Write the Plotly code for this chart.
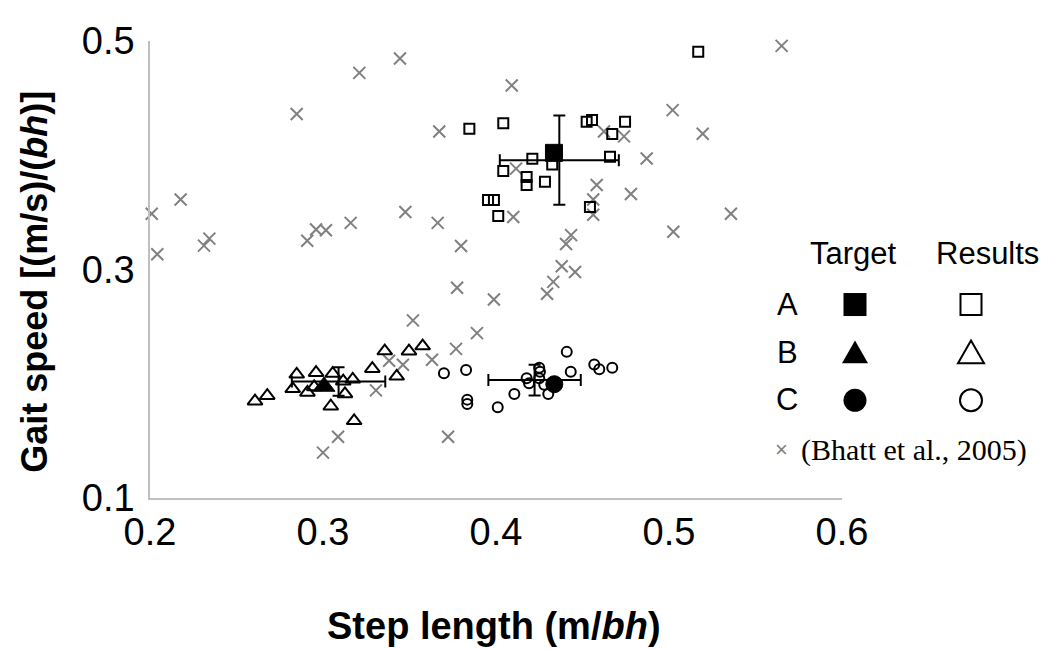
import plotly.graph_objects as go

# ---------------- data ----------------
bhatt_x = [0.2097, 0.2992, 0.3445, 0.3210, 0.2848, 0.3672, 0.2177, 0.2010, 0.2042, 0.2312,
           0.2343, 0.2909, 0.2960, 0.3017, 0.3160, 0.3476, 0.3663, 0.3798, 0.4091, 0.5021,
           0.4624, 0.4740, 0.5195, 0.4871, 0.4116, 0.4582, 0.4780, 0.4562, 0.4562, 0.4100,
           0.4434, 0.4405, 0.5025, 0.4380, 0.4457, 0.4331, 0.5651, 0.5358, 0.4295, 0.3988,
           0.3775, 0.3520, 0.3890, 0.3769, 0.3630, 0.3462, 0.3382, 0.3723, 0.3306, 0.3087,
           0.3000]
bhatt_y = [0.5020, 0.5035, 0.4847, 0.4721, 0.4361, 0.4208, 0.3612, 0.3488, 0.3134, 0.3209,
           0.3270, 0.3252, 0.3350, 0.3344, 0.3408, 0.3503, 0.3408, 0.3206, 0.4611, 0.4395,
           0.4208, 0.4165, 0.4188, 0.3972, 0.3883, 0.3739, 0.3661, 0.3612, 0.3479, 0.3460,
           0.3301, 0.3223, 0.3330, 0.3028, 0.2978, 0.2892, 0.4957, 0.3488, 0.2788, 0.2737,
           0.2840, 0.2555, 0.2443, 0.2305, 0.2210, 0.2166, 0.2201, 0.1536, 0.1942, 0.1536,
           0.1397]

results_a_x = [0.3846, 0.4042, 0.4524, 0.4555, 0.4746, 0.4672, 0.4210, 0.4325, 0.4659,
               0.4042, 0.4177, 0.4177, 0.4283, 0.3954, 0.3988, 0.4013, 0.4543, 0.5169]
results_a_y = [0.4231, 0.4280, 0.4294, 0.4309, 0.4294, 0.4185, 0.3969, 0.3920, 0.3987,
               0.3862, 0.3810, 0.3739, 0.3767, 0.3609, 0.3609, 0.3468, 0.3546, 0.4905]

results_b_x = [0.2607, 0.2678, 0.2848, 0.2825, 0.2910, 0.2960, 0.3056, 0.2949, 0.3117,
               0.3172, 0.3127, 0.3045, 0.3180, 0.3285, 0.3357, 0.3426, 0.3497, 0.3576]
results_b_y = [0.1847, 0.1896, 0.2083, 0.1956, 0.1924, 0.2097, 0.2089, 0.1972, 0.2022,
               0.2039, 0.1911, 0.1803, 0.1676, 0.2132, 0.2286, 0.2065, 0.2285, 0.2330]

results_c_x = [0.3699, 0.3827, 0.3834, 0.3834, 0.4010, 0.4106, 0.4177, 0.4191, 0.4250,
               0.4254, 0.4250, 0.4279, 0.4302, 0.4409, 0.4432, 0.4568, 0.4597, 0.4672]
results_c_y = [0.2091, 0.2121, 0.1861, 0.1823, 0.1795, 0.1910, 0.2048, 0.2005, 0.2140,
               0.2106, 0.2048, 0.1991, 0.1910, 0.2279, 0.2106, 0.2169, 0.2126, 0.2140]

target_x = [0.4335, 0.3006, 0.4337]
target_y = [0.4021, 0.1976, 0.1996]
target_symbols = ["square", "triangle-up", "circle"]
target_sizes = [17, 19, 17]

mean_x = [0.4366, 0.3090, 0.4223]
mean_y = [0.3957, 0.2019, 0.2032]
err_x = [0.0344, 0.0270, 0.0267]
err_y = [0.0391, 0.0125, 0.0134]

x_ticks = [0.2, 0.3, 0.4, 0.5, 0.6]
y_ticks = [0.1, 0.3, 0.5]

# ---------------- figure ----------------
fig = go.Figure()

fig.add_trace(go.Scatter(
    x=bhatt_x, y=bhatt_y, mode="markers", cliponaxis=False,
    marker=dict(symbol="x-thin", size=12, line=dict(color="#808080", width=2)),
    showlegend=False))

fig.add_trace(go.Scatter(
    x=mean_x, y=mean_y, mode="markers", cliponaxis=False,
    marker=dict(size=1, color="rgba(0,0,0,0)"),
    error_x=dict(type="data", array=err_x, color="black", thickness=2, width=6),
    error_y=dict(type="data", array=err_y, color="black", thickness=2, width=6),
    showlegend=False))

for xs, ys, sym, sz in [(results_a_x, results_a_y, "square-open", 10),
                        (results_b_x, results_b_y, "triangle-up-open", 13),
                        (results_c_x, results_c_y, "circle-open", 10)]:
    fig.add_trace(go.Scatter(
        x=xs, y=ys, mode="markers", cliponaxis=False,
        marker=dict(symbol=sym, size=sz, color="black", line=dict(color="black", width=2)),
        showlegend=False))

fig.add_trace(go.Scatter(
    x=target_x, y=target_y, mode="markers", cliponaxis=False,
    marker=dict(symbol=target_symbols, size=target_sizes, color="#000000", opacity=1,
                line=dict(width=1, color="#000000")),
    showlegend=False))

# page has an 8 px body margin; figure is sized to fit the 1050x649 window
OFF = 8
W, H = 1050 - OFF, 649 - OFF
L, R, T, B = 142, 208, 27, 151
PW, PH = W - L - R, H - T - B


def px(sx):
    return (sx - OFF - L) / PW


def py(sy):
    return (H - B - (sy - OFF)) / PH


tick_font = dict(family="Liberation Sans, Arial", size=38, color="black")

fig.update_layout(
    width=W, height=H,
    margin=dict(l=L, r=R, t=T, b=B),
    paper_bgcolor="white", plot_bgcolor="white",
    xaxis=dict(range=[0.2, 0.6], tickvals=x_ticks, ticktext=[f"{v:.1f}" for v in x_ticks],
               showgrid=False, zeroline=False, showline=True, linecolor="#bfbfbf",
               linewidth=1.5, ticks="", tickfont=tick_font),
    yaxis=dict(range=[0.1, 0.5], tickvals=y_ticks, ticktext=[f"{v:.1f}" for v in y_ticks],
               showgrid=False, zeroline=False, showline=True, linecolor="#bfbfbf",
               linewidth=1.5, ticks="", tickfont=tick_font, ticklabelstandoff=6),
    showlegend=False,
)


def text(t, sx, sy, font, **kw):
    d = dict(text=t, x=px(sx), y=py(sy), xref="paper", yref="paper", showarrow=False,
             xanchor="center", yanchor="middle", font=font)
    d.update(kw)
    return d


ann = []
ann.append(text("<b>Gait speed [(m/s)/(<i>bh</i>)]</b>", 35, 279,
                dict(family="Liberation Sans, Arial", size=36, color="black"), textangle=-90))
ann.append(text("<b>Step length (m/<i>bh</i>)</b>", 494, 628,
                dict(family="Liberation Sans, Arial", size=38, color="black")))

leg_font = dict(family="Liberation Sans, Arial", size=31, color="black")
ann.append(text("Target", 853, 250, leg_font))
ann.append(text("Results", 987, 250, leg_font))
for lab, yy in [("A", 302), ("B", 351), ("C", 398)]:
    ann.append(text(lab, 787, yy, leg_font))
ann.append(text("×", 781, 449, dict(family="Liberation Sans, Arial", size=22, color="#808080")))
ann.append(text("(Bhatt et al., 2005)", 914, 449,
                dict(family="Liberation Serif, Times New Roman", size=30, color="black")))


def rect(cx, cy, s, filled):
    return dict(type="rect", xref="paper", yref="paper", xsizemode="pixel", ysizemode="pixel",
                xanchor=px(cx), yanchor=py(cy), x0=-s / 2, x1=s / 2, y0=-s / 2, y1=s / 2,
                fillcolor="black" if filled else "rgba(0,0,0,0)",
                line=dict(color="black", width=0 if filled else 2))


def circ(cx, cy, s, filled):
    return dict(type="circle", xref="paper", yref="paper", xsizemode="pixel", ysizemode="pixel",
                xanchor=px(cx), yanchor=py(cy), x0=-s / 2, x1=s / 2, y0=-s / 2, y1=s / 2,
                fillcolor="black" if filled else "rgba(0,0,0,0)",
                line=dict(color="black", width=0 if filled else 2))


def tri(cx, cy, s, filled):
    h = s * 0.87
    path = f"M {-s/2},{-h/2} L {s/2},{-h/2} L 0,{h/2} Z"
    return dict(type="path", xref="paper", yref="paper", xsizemode="pixel", ysizemode="pixel",
                xanchor=px(cx), yanchor=py(cy), path=path,
                fillcolor="black" if filled else "rgba(0,0,0,0)",
                line=dict(color="black", width=0 if filled else 2))


shapes = [rect(855, 302, 23, True), rect(971, 302, 21, False),
          tri(855, 350, 26, True), tri(971, 350, 26, False),
          circ(855, 399, 23, True), circ(971, 399, 22, False)]

fig.update_layout(annotations=ann, shapes=shapes)

fig.write_html("out.html")
